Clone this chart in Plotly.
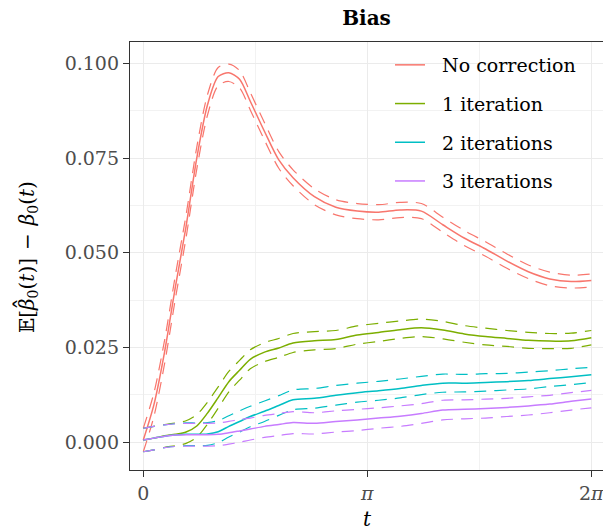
import math
import plotly.graph_objects as go

# ---- data ----
t_grid = [0, 0.15, 0.3, 0.45, 0.6, 0.75, 0.9, 1.05, 1.2, 1.35, 1.5, 1.7, 1.9, 2.1,
          2.4, 2.7, 3.0, 3.3, 3.6, 3.9, 4.2, 4.5, 4.8, 5.1, 5.4, 5.7, 6.0, 6.283]

series_names = ["No correction", "1 iteration", "2 iterations", "3 iterations"]
series_colors = ["#F8766D", "#7CAE00", "#00BFC4", "#C77CFF"]

bias_none = [0.0006, 0.010, 0.024, 0.041, 0.057, 0.075, 0.089, 0.0965, 0.0975, 0.0958,
             0.090, 0.082, 0.0745, 0.0698, 0.0648, 0.062, 0.061, 0.0607, 0.0613, 0.061,
             0.0574, 0.0539, 0.051, 0.0478, 0.045, 0.0431, 0.0424, 0.0427]
bias_iter1 = [0.0006, 0.0011, 0.0017, 0.0021, 0.0027, 0.0043, 0.0077, 0.0118, 0.016, 0.019,
              0.0219, 0.0238, 0.0249, 0.0262, 0.0268, 0.0271, 0.0283, 0.029, 0.0297, 0.0302,
              0.0296, 0.0286, 0.0279, 0.0274, 0.0269, 0.0267, 0.0268, 0.0276]
bias_iter2 = [0.0006, 0.0011, 0.0016, 0.0019, 0.0021, 0.0021, 0.0022, 0.0028, 0.0042, 0.0055,
              0.0068, 0.0082, 0.0097, 0.0112, 0.0116, 0.0124, 0.0131, 0.0136, 0.0142, 0.015,
              0.0156, 0.0156, 0.0158, 0.016, 0.0163, 0.0168, 0.0173, 0.0178]
bias_iter3 = [0.0006, 0.0011, 0.0016, 0.0019, 0.002, 0.002, 0.002, 0.0021, 0.0025, 0.003,
              0.0035, 0.0042, 0.0047, 0.0052, 0.005, 0.0055, 0.0059, 0.0064, 0.0069, 0.0076,
              0.0085, 0.0087, 0.0089, 0.0092, 0.0096, 0.0101, 0.0108, 0.0114]

# half-widths of the dashed bands
hw_none = [0.0031, 0.0031, 0.0031, 0.0031, 0.0030, 0.0029, 0.0027, 0.0024, 0.0023, 0.0023,
           0.0023, 0.0023, 0.0022, 0.0021, 0.0021, 0.0020, 0.0020, 0.0020, 0.0020, 0.0020,
           0.0020, 0.0020, 0.0019, 0.0019, 0.0018, 0.0018, 0.0017, 0.0017]
hw_iter1 = [0.0031, 0.0031, 0.0030, 0.0030, 0.0030, 0.0030, 0.0029, 0.0028, 0.0027, 0.0026,
            0.0025, 0.0025, 0.0025, 0.0025, 0.0024, 0.0024, 0.0024, 0.0024, 0.0023, 0.0023,
            0.0023, 0.0022, 0.0022, 0.0021, 0.0021, 0.0020, 0.0020, 0.0019]
hw_iter2 = [0.0031, 0.0031, 0.0030, 0.0030, 0.0030, 0.0030, 0.0030, 0.0029, 0.0028, 0.0028,
            0.0027, 0.0027, 0.0026, 0.0026, 0.0026, 0.0026, 0.0025, 0.0025, 0.0025, 0.0024,
            0.0024, 0.0023, 0.0023, 0.0022, 0.0022, 0.0021, 0.0021, 0.0020]
hw_iter3 = [0.0031, 0.0031, 0.0030, 0.0030, 0.0030, 0.0030, 0.0030, 0.0030, 0.0030, 0.0030,
            0.0029, 0.0029, 0.0029, 0.0029, 0.0028, 0.0028, 0.0028, 0.0027, 0.0027, 0.0026,
            0.0026, 0.0025, 0.0025, 0.0024, 0.0024, 0.0023, 0.0023, 0.0023]

x_tick_vals = [0, math.pi, 2 * math.pi]
x_tick_text = ["0", "<i>π</i>", "2<i>π</i>"]
y_tick_vals = [0.0, 0.025, 0.05, 0.075, 0.1]
y_tick_text = ["0.000", "0.025", "0.050", "0.075", "0.100"]

means = [bias_none, bias_iter1, bias_iter2, bias_iter3]
hws = [hw_none, hw_iter1, hw_iter2, hw_iter3]

FONT = "DejaVu Serif"
FS = 19

fig = go.Figure()
for name, color, m, h in zip(series_names, series_colors, means, hws):
    lower = [a - b for a, b in zip(m, h)]
    upper = [a + b for a, b in zip(m, h)]
    for band in (lower, upper):
        fig.add_trace(go.Scatter(
            x=t_grid, y=band, mode="lines", legendgroup=name, showlegend=False,
            line=dict(color=color, width=1.2, dash="12px,8px", shape="spline", smoothing=0.8),
            hoverinfo="skip"))
    fig.add_trace(go.Scatter(
        x=t_grid, y=m, mode="lines", name="\u00a0\u00a0" + name, legendgroup=name,
        line=dict(color=color, width=1.5, shape="spline", smoothing=0.8)))

grid_major = "#EBEBEB"
grid_minor = "#F2F2F2"

ytitle_x = (28 - 130) / 473
ytitle_y = (470 - 257) / 428

fig.update_layout(
    width=603, height=531,
    margin=dict(l=130, r=0, t=42, b=61),
    paper_bgcolor="white", plot_bgcolor="white",
    font=dict(family=FONT, size=FS, color="black"),
    title=dict(text="<b>Bias</b>", x=0.5, xref="paper", xanchor="center",
               y=1 - 18 / 531, yref="container", yanchor="middle",
               font=dict(family=FONT, size=20, color="black")),
    showlegend=True,
    legend=dict(x=(390 - 130) / 473, xanchor="left", y=1 - 4 / 428, yanchor="top",
                bgcolor="rgba(0,0,0,0)", borderwidth=0, tracegroupgap=11,
                traceorder="grouped",
                font=dict(family=FONT, size=FS, color="black")),
    xaxis=dict(range=[-0.1865, 6.447], tickmode="array", tickvals=x_tick_vals,
               ticktext=x_tick_text, showgrid=True, gridcolor=grid_major, gridwidth=1.2,
               zeroline=False, showline=True, linecolor="#333333", linewidth=1.3,
               mirror=True, ticks="outside", ticklen=6, tickwidth=1.3, tickcolor="#333333",
               ticklabeloverflow="allow",
               tickfont=dict(family=FONT, size=FS, color="#4D4D4D"),
               minor=dict(tickmode="array", tickvals=[math.pi / 2, 3 * math.pi / 2],
                          showgrid=True, gridcolor=grid_minor, gridwidth=1, ticks="")),
    yaxis=dict(range=[-0.00731, 0.10562], tickmode="array", tickvals=y_tick_vals,
               ticktext=y_tick_text, showgrid=True, gridcolor=grid_major, gridwidth=1.2,
               zeroline=False, showline=True, linecolor="#333333", linewidth=1.3,
               ticks="outside", ticklen=6, tickwidth=1.3, tickcolor="#333333",
               tickfont=dict(family=FONT, size=FS, color="#4D4D4D"),
               minor=dict(tickmode="array", tickvals=[0.0125, 0.0375, 0.0625, 0.0875],
                          showgrid=True, gridcolor=grid_minor, gridwidth=1, ticks="")),
    annotations=[
        dict(text="𝔼[<i>β</i><sub>0</sub>(<i>t</i>)]\u2009\u2009−\u2009\u2009<i>β</i><sub>0</sub>(<i>t</i>)",
             xref="paper", yref="paper", x=ytitle_x, y=ytitle_y,
             xanchor="center", yanchor="middle", textangle=-90, showarrow=False,
             font=dict(family=FONT, size=20, color="black")),
        # the wide hat over the first beta
        dict(text="\u02c6", xref="paper", yref="paper",
             x=(24 - 130) / 473, y=(470 - 304) / 428,
             xanchor="center", yanchor="middle", textangle=-90, showarrow=False,
             font=dict(family=FONT, size=24, color="black")),
        dict(text="<i>t</i>", xref="x", yref="paper", x=math.pi, y=(470 - 519) / 428,
             xanchor="center", yanchor="middle", showarrow=False,
             font=dict(family=FONT, size=20, color="black")),
    ],
)

fig.write_html("out.html")
